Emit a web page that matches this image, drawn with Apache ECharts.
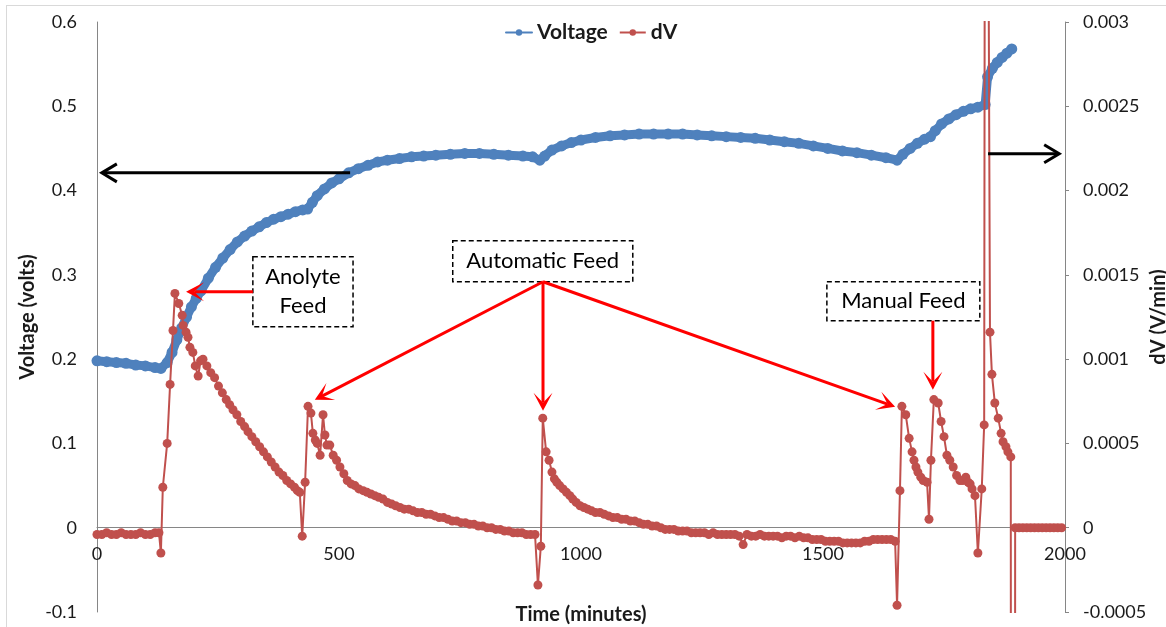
<!DOCTYPE html>
<html><head><meta charset="utf-8">
<script src="https://cdn.jsdelivr.net/npm/echarts@6/dist/echarts.min.js"></script>
<style>html,body{margin:0;padding:0;background:#fff}#c{width:1166px;height:627px}</style>
</head><body><div id="c"></div>
<script>
// ---- data: [time (minutes), value] ----
const voltagePoints = [
 [0,0.198],[20,0.197],[40,0.196],[60,0.195],[80,0.193],[100,0.192],[120,0.190],[132,0.189],
 [145,0.196],[155,0.208],[165,0.223],[175,0.237],[185,0.250],[195,0.262],[205,0.272],[215,0.281],
 [230,0.296],[245,0.309],[260,0.320],[275,0.330],[290,0.339],[305,0.346],[320,0.352],[335,0.357],
 [350,0.362],[365,0.366],[380,0.369],[395,0.372],[410,0.375],[425,0.377],[435,0.378],[445,0.386],
 [455,0.394],[470,0.402],[485,0.409],[500,0.414],[520,0.421],[540,0.426],[560,0.430],[580,0.434],
 [600,0.436],[625,0.438],[650,0.440],[675,0.441],[700,0.442],[730,0.443],[760,0.444],[790,0.444],
 [820,0.443],[850,0.442],[880,0.441],[900,0.440],[915,0.436],[925,0.441],[940,0.448],[960,0.453],
 [980,0.457],[1000,0.460],[1030,0.463],[1060,0.465],[1090,0.466],[1120,0.467],[1150,0.467],[1180,0.467],
 [1210,0.467],[1240,0.466],[1270,0.465],[1300,0.464],[1330,0.463],[1360,0.462],[1390,0.460],[1420,0.458],
 [1450,0.456],[1480,0.453],[1510,0.450],[1540,0.447],[1570,0.445],[1600,0.442],[1630,0.439],[1653,0.436],
 [1665,0.443],[1680,0.450],[1695,0.456],[1710,0.461],[1722,0.464],[1732,0.471],[1745,0.479],[1760,0.485],
 [1775,0.490],[1790,0.494],[1805,0.497],[1820,0.499],[1835,0.502],[1840,0.535],[1850,0.545],[1860,0.552],
 [1870,0.558],[1880,0.563],[1890,0.568]
];
const dvPoints = [
 [0,-0.00004],[10,-0.00004],[20,-0.00003],[30,-0.00004],[40,-0.00004],[50,-0.00003],[60,-0.00004],[70,-0.00004],
 [80,-0.00004],[90,-0.00003],[100,-0.00004],[110,-0.00004],[120,-0.00003],[128,-0.00003],
 [132,-0.00015],[136,0.00024],[145,0.00050],[151,0.00085],[157,0.00117],[161,0.00139],[169,0.00133],[176,0.00126],
 [178,0.00120],[184,0.00116],[188,0.00113],[192,0.00107],[198,0.00104],[203,0.00096],[209,0.00090],[214,0.00099],[219,0.00100],
 [227,0.00096],[235,0.00092],[243,0.00089],[251,0.00084],[259,0.00080],[267,0.00076],[274,0.00073],[281,0.00070],
 [289,0.00067],[297,0.00063],[305,0.00060],[312,0.00057],[320,0.00054],[328,0.00051],[336,0.00048],[344,0.00045],
 [352,0.00042],[360,0.00039],[368,0.00036],[376,0.00033],[384,0.00031],[392,0.00028],[400,0.00026],[408,0.00024],
 [414,0.00022],[419,0.00021],
 [424,-0.00005],[430,0.00027],[436,0.00072],[442,0.00068],[446,0.00056],[451,0.00052],[455,0.00050],[461,0.00043],
 [467,0.00067],[471,0.00055],[475,0.00049],[481,0.00049],[488,0.00043],
 [495,0.00040],[502,0.00036],[510,0.00032],[517,0.00028],[525,0.00026],[533,0.00025],[541,0.00023],[550,0.00022],
 [558,0.00021],[566,0.00020],[574,0.00019],[582,0.00018],[591,0.00017],[600,0.00015],[609,0.00014],[617,0.00013],
 [626,0.00012],[635,0.00011],[644,0.00011],[653,0.00010],[662,0.00009],[671,0.00009],[680,0.00008],[689,0.00008],
 [698,0.00007],[707,0.00006],[716,0.00006],[725,0.00005],[734,0.00004],[743,0.00004],[752,0.00003],[761,0.00003],
 [770,0.00002],[779,0.00002],[788,0.00001],[797,0.00001],[806,0],[815,0],[824,-0.00001],[833,-0.00001],
 [842,-0.00002],[851,-0.00002],[860,-0.00003],[869,-0.00003],[878,-0.00003],[887,-0.00004],[896,-0.00004],[905,-0.00004],
 [911,-0.00034],[917,-0.00011],[921,0.00065],[928,0.00045],[934,0.00040],[940,0.00033],[945,0.00029],[950,0.00027],
 [956,0.00025],[963,0.00023],[970,0.00021],[977,0.00019],[983,0.00017],[990,0.00015],[998,0.00013],[1006,0.00012],
 [1014,0.00011],[1022,0.00010],[1030,0.00009],[1039,0.00009],[1048,0.00008],[1057,0.00007],[1066,0.00006],[1075,0.00006],
 [1084,0.00005],[1093,0.00005],[1102,0.00004],[1111,0.00004],[1120,0.00003],[1129,0.00002],[1138,0.00002],[1147,0.00001],
 [1156,0.00001],[1165,0],[1174,-0.00001],[1183,-0.00001],[1192,-0.00001],[1201,-0.00002],[1210,-0.00002],[1219,-0.00002],
 [1228,-0.00003],[1237,-0.00003],[1246,-0.00003],[1255,-0.00003],[1264,-0.00004],[1273,-0.00003],[1282,-0.00004],[1291,-0.00004],
 [1300,-0.00004],[1309,-0.00004],[1318,-0.00004],[1327,-0.00005],[1335,-0.00010],[1343,-0.00004],[1352,-0.00005],[1361,-0.00005],
 [1370,-0.00004],[1379,-0.00005],[1388,-0.00005],[1397,-0.00005],[1406,-0.00005],[1415,-0.00006],[1424,-0.00005],[1433,-0.00005],
 [1442,-0.00006],[1451,-0.00005],[1460,-0.00006],[1469,-0.00006],[1478,-0.00007],[1487,-0.00007],[1496,-0.00007],[1505,-0.00008],
 [1514,-0.00008],[1523,-0.00008],[1532,-0.00008],[1541,-0.00009],[1550,-0.00009],[1559,-0.00009],[1568,-0.00009],[1577,-0.00009],
 [1586,-0.00008],[1595,-0.00008],[1604,-0.00007],[1613,-0.00007],[1622,-0.00007],[1631,-0.00007],[1640,-0.00007],[1649,-0.00008],
 [1653,-0.00046],[1659,0.00022],[1663,0.00072],[1671,0.00067],[1678,0.00053],[1684,0.00045],[1688,0.00040],[1692,0.00036],
 [1696,0.00033],[1702,0.00030],[1707,0.00028],[1715,0.00027],[1719,0.00005],[1723,0.00040],[1729,0.00076],[1738,0.00074],
 [1744,0.00063],[1750,0.00054],[1756,0.00043],[1762,0.00040],[1769,0.00036],[1776,0.00031],[1783,0.00028],[1789,0.00028],
 [1795,0.00030],[1800,0.00027],[1804,0.00026],[1808,0.00023],[1814,0.00019],[1820,-0.00015],[1828,0.00023],[1833,0.00061],
 [1836,0.008],[1845,0.00116],[1849,0.00091],[1855,0.00074],[1862,0.00065],[1868,0.00056],[1872,0.00051],[1878,0.00048],
 [1882,0.00045],[1888,0.00042],[1893,-0.05],[1897,0],[1905,0],[1913,0],[1921,0],[1929,0],[1937,0],[1945,0],
 [1953,0],[1961,0],[1969,0],[1977,0],[1985,0],[1993,0]
];
const seriesNames = ['Voltage', 'dV'];
const axisNames = {x: 'Time (minutes)', left: 'Voltage (volts)', right: 'dV (V/min)'};
const leftRange = {min: -0.1, max: 0.6, interval: 0.1};
const rightRange = {min: -0.0005, max: 0.003, interval: 0.0005};

// annotations, anchored in data coordinates (time, left-axis volts)
const annotationBoxes = [
  {lines: ['Anolyte', 'Feed'], t1: 322, t2: 529, v1: 0.3215, v2: 0.2384},
  {lines: ['Automatic Feed'], t1: 735, t2: 1107, v1: 0.3405, v2: 0.2918},
  {lines: ['Manual Feed'], t1: 1508, t2: 1824, v1: 0.2918, v2: 0.2456}
];
const redArrows = [
  [[322, 0.28], [184, 0.28]],
  [[921.5, 0.2918], [450, 0.1518]],
  [[921.5, 0.2918], [921.5, 0.1388]],
  [[921.5, 0.2918], [1649, 0.1435]],
  [[1727, 0.2456], [1727, 0.1637]]
];
const blackArrows = [
  [[523, 0.421], [10, 0.421]],
  [[1841, 0.4437], [1988, 0.4437]]
];

const FONT = 'Lato, "Liberation Sans", sans-serif';
const TXT = '#1a1a1a';
const AX = '#868686';
const plain = v => String(v);
const GRID = {left: 97, right: 101, top: 22, bottom: 15};
const plotH = 627 - GRID.top - GRID.bottom;
// place the x axis on the zero line of the value axis (shift up from grid bottom)
const zeroShift = -plotH * (0 - leftRange.min) / (leftRange.max - leftRange.min);

const chart = echarts.init(document.getElementById('c'));
chart.setOption({
  backgroundColor: '#fff',
  animation: false,
  textStyle: {fontFamily: FONT},
  legend: {
    data: seriesNames, top: 17, left: 500, itemWidth: 26, itemHeight: 8, itemGap: 11,
    lineStyle: {width: 2},
    textStyle: {fontFamily: FONT, fontWeight: 'bold', fontSize: 21, color: TXT}
  },
  grid: Object.assign({containLabel: false, outerBoundsMode: 'none'}, GRID),
  xAxis: {
    type: 'value', min: 0, max: 2000, interval: 500, offset: zeroShift,
    axisLine: {onZero: false, lineStyle: {color: AX, width: 1}},
    axisTick: {show: false}, splitLine: {show: false},
    axisLabel: {fontSize: 18, color: TXT, margin: 17, fontFamily: FONT, formatter: plain},
    name: axisNames.x, nameLocation: 'middle', nameGap: 77, nameMoveOverlap: false,
    nameTextStyle: {fontFamily: FONT, fontWeight: 'bold', fontSize: 20, color: TXT}
  },
  yAxis: [{
    type: 'value', min: leftRange.min, max: leftRange.max, interval: leftRange.interval, position: 'left',
    axisLine: {show: true, onZero: false, lineStyle: {color: AX}},
    axisTick: {show: false}, splitLine: {show: false},
    axisLabel: {fontSize: 18, color: TXT, margin: 20, fontFamily: FONT, formatter: plain},
    name: axisNames.left, nameLocation: 'middle', nameRotate: 90, nameGap: 59, nameMoveOverlap: false,
    nameTextStyle: {fontFamily: FONT, fontWeight: 'bold', fontSize: 20, color: TXT}
  }, {
    type: 'value', min: rightRange.min, max: rightRange.max, interval: rightRange.interval, position: 'right',
    axisLine: {show: true, onZero: false, lineStyle: {color: AX}},
    axisTick: {show: true, length: 4, lineStyle: {color: AX}}, splitLine: {show: false},
    axisLabel: {fontSize: 18, color: TXT, margin: 18, fontFamily: FONT, formatter: plain},
    name: axisNames.right, nameLocation: 'middle', nameRotate: 90, nameGap: 84, nameMoveOverlap: false,
    nameTextStyle: {fontFamily: FONT, fontWeight: 'bold', fontSize: 20, color: TXT}
  }],
  series: [{
    name: seriesNames[0], type: 'line', yAxisIndex: 0, data: voltagePoints,
    symbol: 'circle', symbolSize: 11, showSymbol: true,
    lineStyle: {color: '#4F81BD', width: 9, cap: 'round', join: 'round'},
    itemStyle: {color: '#4F81BD'}, z: 2
  }, {
    name: seriesNames[1], type: 'line', yAxisIndex: 1, data: dvPoints,
    symbol: 'circle', symbolSize: 9, showSymbol: true, clip: true,
    lineStyle: {color: '#C0504D', width: 2},
    itemStyle: {color: '#C0504D'}, z: 3
  }]
});

function px(p) { return chart.convertToPixel({xAxisIndex: 0, yAxisIndex: 0}, p); }
const g = [];
// outer frame lines
g.push({type: 'line', shape: {x1: 6, y1: 5.5, x2: 1166, y2: 5.5}, style: {stroke: '#d9d9d9', lineWidth: 1}, silent: true});
g.push({type: 'line', shape: {x1: 6.5, y1: 5, x2: 6.5, y2: 627}, style: {stroke: '#d9d9d9', lineWidth: 1}, silent: true});

annotationBoxes.forEach(b => {
  const a = px([b.t1, b.v1]), c = px([b.t2, b.v2]);
  g.push({type: 'rect', z: 100, shape: {x: a[0], y: a[1], width: c[0] - a[0], height: c[1] - a[1]},
    style: {fill: 'rgba(255,255,255,0)', stroke: '#000', lineWidth: 1.5, lineDash: [5, 3]}});
  g.push({type: 'text', z: 101, x: (a[0] + c[0]) / 2, y: (a[1] + c[1]) / 2,
    style: {text: b.lines.join('\n'), font: '22px ' + FONT, fill: '#000', align: 'center', verticalAlign: 'middle', lineHeight: 29}});
});

function unit(a, b) { const dx = b[0] - a[0], dy = b[1] - a[1], l = Math.hypot(dx, dy); return [dx / l, dy / l]; }
redArrows.forEach(ar => {
  const s = px(ar[0]), e = px(ar[1]);
  const d = unit(s, e), n = [-d[1], d[0]];
  const L = 18, W = 9.5, notch = 0.45 * L;
  const base = [e[0] - d[0] * notch, e[1] - d[1] * notch];
  g.push({type: 'line', z: 100, shape: {x1: s[0], y1: s[1], x2: base[0], y2: base[1]}, style: {stroke: '#ff0000', lineWidth: 3}});
  g.push({type: 'polygon', z: 100, shape: {points: [
    e,
    [e[0] - d[0] * L + n[0] * W, e[1] - d[1] * L + n[1] * W],
    base,
    [e[0] - d[0] * L - n[0] * W, e[1] - d[1] * L - n[1] * W]
  ]}, style: {fill: '#ff0000'}});
});
blackArrows.forEach(ar => {
  const s = px(ar[0]), e = px(ar[1]);
  const d = unit(s, e), n = [-d[1], d[0]];
  const L = 15, W = 9;
  g.push({type: 'line', z: 100, shape: {x1: s[0], y1: s[1], x2: e[0] - d[0], y2: e[1] - d[1]}, style: {stroke: '#000', lineWidth: 3}});
  g.push({type: 'polyline', z: 100, shape: {points: [
    [e[0] - d[0] * L + n[0] * W, e[1] - d[1] * L + n[1] * W], e,
    [e[0] - d[0] * L - n[0] * W, e[1] - d[1] * L - n[1] * W]
  ]}, style: {stroke: '#000', lineWidth: 3, fill: null, lineJoin: 'miter'}});
});
chart.setOption({graphic: g});
</script></body></html>
